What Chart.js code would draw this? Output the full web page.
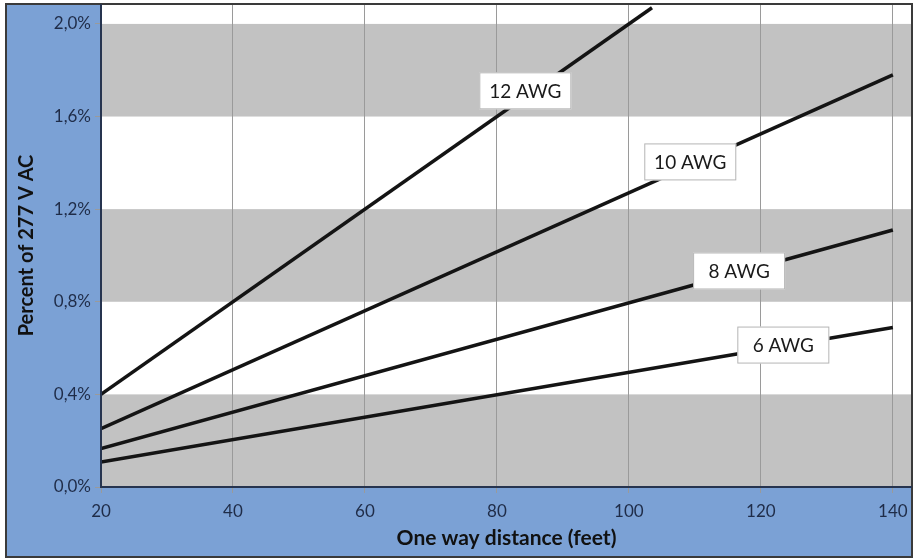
<!DOCTYPE html>
<html>
<head>
<meta charset="utf-8">
<script src="https://cdn.jsdelivr.net/npm/chart.js@4/dist/chart.umd.min.js"></script>
<style>
  body { margin: 0; background: #fff; }
  #wrap { width: 921px; height: 559px; }
</style>
</head>
<body>
<div id="wrap"><canvas id="graficoAWG" width="921" height="559"></canvas></div>
<script>
// data
var distanceFt = [20, 140];
var awg12Dist = [20, 103.5];
var awg12 = [0.40, 2.07];
var awg10 = [0.252, 1.78];
var awg8 = [0.166, 1.11];
var awg6 = [0.108, 0.689];

var xTicks = [20, 40, 60, 80, 100, 120, 140];
var yTicks = [0, 0.4, 0.8, 1.2, 1.6, 2.0];
var grayBands = [[0, 0.4], [0.8, 1.2], [1.6, 2.0]];

var lineLabels = ['12 AWG', '10 AWG', '8 AWG', '6 AWG'];
var labelDist = [84.3, 109.3, 116.7, 123.4];
var labelPct = [1.711, 1.404, 0.933, 0.613];

function pts(xs, ys) {
  return xs.map(function (x, i) { return { x: x, y: ys[i] }; });
}

var lineStyle = { borderColor: '#141414', borderWidth: 3.5, pointRadius: 0, showLine: true, fill: false };

/* fondo azul, marco y bandas grises */
var backPlugin = {
  id: 'backPlugin',
  beforeDraw: function (chart) {
    var c = chart.ctx, a = chart.chartArea, y = chart.scales.y;
    c.save();
    c.fillStyle = '#ffffff';
    c.fillRect(0, 0, chart.width, chart.height);
    c.fillStyle = '#7ba1d5';
    c.fillRect(6, 4, 906, 553);
    c.strokeStyle = '#3a3a3a';
    c.lineWidth = 2;
    c.strokeRect(6, 4, 906, 553);
    c.fillStyle = '#ffffff';
    c.fillRect(a.left, a.top, a.right - a.left, a.bottom - a.top);
    c.fillStyle = '#c2c2c2';
    grayBands.forEach(function (b) {
      var top = y.getPixelForValue(b[1]), bot = y.getPixelForValue(b[0]);
      c.fillRect(a.left, top, a.right - a.left, bot - top);
    });
    c.restore();
  },
  afterDraw: function (chart) {
    var c = chart.ctx, a = chart.chartArea;
    c.save();
    c.strokeStyle = '#3a3a3a';
    c.lineWidth = 2;
    c.beginPath();
    c.moveTo(a.left, a.top); c.lineTo(a.right, a.top); c.lineTo(a.right, a.bottom);
    c.stroke();
    c.strokeStyle = '#26344f';
    c.beginPath();
    c.moveTo(a.left, a.top); c.lineTo(a.left, a.bottom); c.lineTo(a.right, a.bottom);
    c.stroke();
    // etiquetas de las lineas
    c.font = '19px Lato';
    c.textAlign = 'center';
    c.textBaseline = 'middle';
    lineLabels.forEach(function (t, i) {
      var px = chart.scales.x.getPixelForValue(labelDist[i]);
      var py = chart.scales.y.getPixelForValue(labelPct[i]);
      var w = 92, h = 37;
      c.fillStyle = '#ffffff';
      c.fillRect(px - w / 2, py - h / 2, w, h);
      c.strokeStyle = '#b5b5b5';
      c.lineWidth = 1;
      c.strokeRect(px - w / 2 + 0.5, py - h / 2 + 0.5, w - 1, h - 1);
      c.fillStyle = '#1a1a1a';
      c.fillText(t, px, py + 1);
    });
    c.restore();
  }
};

var ctx = document.getElementById('graficoAWG').getContext('2d');
var chartAWG = new Chart(ctx, {
  type: 'scatter',
  data: {
    datasets: [
      Object.assign({ label: '12 AWG', data: pts(awg12Dist, awg12) }, lineStyle),
      Object.assign({ label: '10 AWG', data: pts(distanceFt, awg10) }, lineStyle),
      Object.assign({ label: '8 AWG', data: pts(distanceFt, awg8) }, lineStyle),
      Object.assign({ label: '6 AWG', data: pts(distanceFt, awg6) }, lineStyle)
    ]
  },
  options: {
    responsive: false,
    animation: false,
    layout: { padding: { top: 4, right: 9, left: 15, bottom: 8 } },
    plugins: { legend: { display: false }, tooltip: { enabled: false } },
    scales: {
      x: {
        type: 'linear', min: 20, max: 142.9,
        afterBuildTicks: function (s) { s.ticks = xTicks.map(function (v) { return { value: v }; }); },
        afterFit: function (s) { s.height = 64; s.paddingLeft = 0; s.paddingRight = 0; },
        grid: { color: '#9a9a9a', lineWidth: 1, drawTicks: true, tickLength: 6 },
        border: { display: false },
        ticks: { color: '#1f2c48', font: { family: 'Lato', size: 17 }, padding: 8, maxRotation: 0 },
        title: { display: true, text: 'One way distance (feet)', color: '#111', font: { family: 'Lato', size: 21, weight: 'bold' }, padding: 0 }
      },
      y: {
        type: 'linear', min: 0, max: 2.086,
        afterBuildTicks: function (s) { s.ticks = yTicks.map(function (v) { return { value: v }; }); },
        afterFit: function (s) { s.width = 86; s.paddingTop = 0; s.paddingBottom = 0; },
        grid: { display: true, drawOnChartArea: false, color: '#9a9a9a', tickLength: 6 },
        border: { display: false },
        ticks: {
          color: '#1f2c48', font: { family: 'Lato', size: 17 }, padding: 4,
          callback: function (v) { return v.toFixed(1).replace('.', ',') + '%'; }
        },
        title: { display: true, text: 'Percent of 277 V AC', color: '#111', font: { family: 'Lato', size: 20, weight: 'bold' }, padding: 0 }
      }
    }
  },
  plugins: [backPlugin]
});
</script>
</body>
</html>
